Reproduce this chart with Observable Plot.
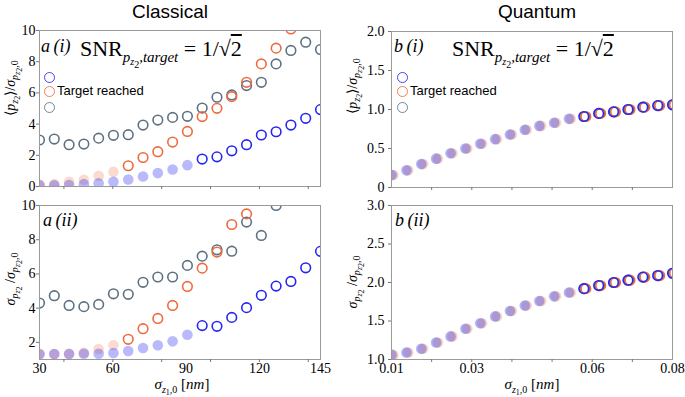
<!DOCTYPE html>
<html>
<head>
<meta charset="utf-8">
<script src="https://cdn.jsdelivr.net/npm/d3@7"></script>
<script src="https://cdn.jsdelivr.net/npm/@observablehq/plot@0.6"></script>
<style>
  body { margin: 0; background: #fff; }
  #wrap { position: relative; width: 685px; height: 397px; background: #fff; overflow: hidden; }
  .pl { position: absolute; }
  .t { position: absolute; white-space: nowrap; color: #000; line-height: 1; }
  .title { font-family: "Liberation Sans", Arial, sans-serif; font-size: 19px; transform: translateX(-50%); }
  .serif { font-family: "Liberation Serif", "Times New Roman", serif; }
  .lab { font-style: italic; font-size: 18px; }
  .snr { font-size: 22px; }
  .snr sub { font-size: 15px; font-style: italic; vertical-align: -6px; }
  .snr sub sub { font-size: 10px; vertical-align: -3px; }
  .ylab { font-size: 14px; transform: translate(-50%, -50%) rotate(-90deg); }
  .ylab sub { font-size: 10px; vertical-align: -3px; }
  .ylab sub sub { font-size: 8px; vertical-align: -2px; }
  .xlab { font-size: 15px; transform: translateX(-50%); }
  .xlab sub { font-size: 10px; vertical-align: -4px; }
  .xlab sub sub { font-size: 8px; vertical-align: -2px; }
  .leg { position: absolute; width: 11px; height: 11px; border-radius: 50%; border: 1.3px solid; box-sizing: border-box; }
  .legtxt { font-family: "Liberation Sans", Arial, sans-serif; font-size: 13px; }
</style>
</head>
<body>
<div id="wrap"></div>
<script>
// ---------------- data ----------------
const classicalX = [30, 36.05, 42.11, 48.16, 54.21, 60.26, 66.32, 72.37, 78.42, 84.47, 90.53, 96.58, 102.63, 108.68, 114.74, 120.79, 126.84, 132.89, 138.95, 145];
const quantumX = [0.01, 0.0137, 0.0174, 0.0211, 0.0247, 0.0284, 0.0321, 0.0358, 0.0395, 0.0432, 0.0468, 0.0505, 0.0542, 0.0579, 0.0616, 0.0653, 0.0689, 0.0726, 0.0763, 0.08];

// a(i): <p_z2>/sigma_pz2,0 (classical)
const classicalMeanBlue   = [0.08, 0.08, 0.10, 0.15, 0.21, 0.30, 0.45, 0.64, 0.86, 1.09, 1.37, 1.76, 1.90, 2.29, 2.68, 3.30, 3.51, 3.94, 4.37, 4.93];
const classicalMeanOrange = [0.13, 0.15, 0.30, 0.43, 0.69, 0.94, 1.33, 1.86, 2.23, 2.85, 3.53, 4.48, 5.01, 5.76, 6.68, 7.86, 8.87, 10.1, null, null];
const classicalMeanGrey   = [2.98, 3.04, 2.68, 2.72, 3.10, 3.28, 3.32, 3.94, 4.26, 4.43, 4.50, 5.03, 5.72, 5.87, 6.47, 6.68, 7.86, 8.72, 9.25, 8.78];

// a(ii): sigma_pz2 / sigma_pz2,0 (classical)
const classicalStdBlue   = [1.30, 1.32, 1.32, 1.34, 1.34, 1.38, 1.50, 1.67, 1.83, 2.06, 2.45, 2.98, 2.94, 3.46, 4.03, 4.75, 5.29, 5.56, 6.36, 7.32];
const classicalStdOrange = [1.34, 1.32, 1.34, 1.40, 1.61, 1.83, 2.18, 2.80, 3.40, 4.16, 5.27, 6.34, 7.28, 8.89, 9.51, null, null, null, null, null];
const classicalStdGrey   = [4.30, 4.73, 4.16, 4.09, 4.22, 4.84, 4.81, 5.51, 5.82, 5.82, 6.50, 7.04, 7.41, 7.33, 9.03, 8.25, 10.0, null, null, null];

// b(i), b(ii): quantum (the three series coincide)
const quantumMean = [0.16, 0.22, 0.30, 0.37, 0.44, 0.50, 0.56, 0.62, 0.68, 0.74, 0.79, 0.83, 0.88, 0.91, 0.95, 0.97, 1.00, 1.03, 1.05, 1.06];
const quantumStd  = [1.06, 1.09, 1.14, 1.22, 1.30, 1.40, 1.47, 1.56, 1.63, 1.70, 1.76, 1.82, 1.87, 1.92, 1.96, 2.00, 2.03, 2.07, 2.09, 2.12];

// index from which the target SNR is reached (hollow markers)
const reachedClassical = { blue: 11, orange: 6, grey: 0 };
const reachedQuantum   = { blue: 13, orange: 13, grey: 13 };

const classicalYTicksTop = [0, 2, 4, 6, 8, 10];
const classicalYTicksBottom = [2, 4, 6, 8, 10];
const classicalXTickMarks = [40, 60, 80, 100, 120, 140];
const classicalXTickLabels = [30, 60, 90, 120, 145];
const quantumYTicksTop = [0, 0.5, 1.0, 1.5, 2.0];
const quantumYTicksBottom = [1.0, 1.5, 2.0, 2.5, 3.0];
const quantumXTickMarks = [0.02, 0.03, 0.04, 0.05, 0.06, 0.07];
const quantumXTickLabels = [0.01, 0.03, 0.06, 0.08];

// ---------------- style ----------------
const colors = { blue: "#2626f2", orange: "#ef6a3e", grey: "#5d7183" };
const fillOpacityClassical = { blue: 0.32, orange: 0.25, grey: 0.0 };
const fillOpacityQuantum = { blue: 0.32, orange: 0.25, grey: 0.12 };

function rows(xs, ys, from) {
  return xs.map((x, i) => ({ x, y: ys[i], reached: i >= from })).filter(d => d.y != null);
}

function panel({ left, top, width, height, margin, xDomain, yDomain, series, fillOpacity, yTicks, yFormat,
                 xMarks, xLabels, xFormat, showXLabels, yTickPadding }) {
  const marks = [];
  for (const s of series) {
    if (fillOpacity[s.key] > 0)
      marks.push(Plot.dot(s.data.filter(d => !d.reached), { x: "x", y: "y", r: 5.3, fill: colors[s.key], fillOpacity: fillOpacity[s.key], stroke: "none", dx: s.dx, clip: true }));
  }
  for (const s of series) {
    marks.push(Plot.dot(s.data.filter(d => d.reached), { x: "x", y: "y", r: 4.8, stroke: colors[s.key], strokeWidth: 1.6, fill: "none", dx: s.dx, clip: true }));
  }
  marks.push(Plot.frame({ stroke: "#9a9a9a", strokeWidth: 1 }));
  marks.push(Plot.axisY(yTicks, { tickSize: 3, tickPadding: yTickPadding, tickFormat: yFormat, stroke: "#777", label: null }));
  marks.push(Plot.axisX(xMarks, { tickSize: 3, tickFormat: () => "", stroke: "#777", label: null }));
  if (showXLabels) marks.push(Plot.axisX(xLabels, { tickSize: 0, tickPadding: 4, tickFormat: xFormat, label: null }));
  const svg = Plot.plot({
    width, height,
    marginLeft: margin[3], marginRight: margin[1], marginTop: margin[0], marginBottom: margin[2],
    x: { domain: xDomain, label: null },
    y: { domain: yDomain, label: null },
    style: { background: "transparent", fontFamily: "'Liberation Serif', 'Times New Roman', serif", fontSize: "14px", overflow: "visible", color: "#000" },
    marks
  });
  svg.classList.add("pl");
  svg.style.left = left + "px";
  svg.style.top = top + "px";
  document.getElementById("wrap").appendChild(svg);
}

const cSeries = (b, o, g) => [
  { key: "grey", data: rows(classicalX, g, reachedClassical.grey), dx: 0 },
  { key: "orange", data: rows(classicalX, o, reachedClassical.orange), dx: 0 },
  { key: "blue", data: rows(classicalX, b, reachedClassical.blue), dx: 0 }
];
const qSeries = (v) => [
  { key: "grey", data: rows(quantumX, v, reachedQuantum.grey), dx: 1 },
  { key: "orange", data: rows(quantumX, v, reachedQuantum.orange), dx: 2 },
  { key: "blue", data: rows(quantumX, v, reachedQuantum.blue), dx: 0 }
];

const fmtInt = d => String(d);
const fmtQ = d => d === 0 ? "0" : d.toFixed(1);
const fmtQx = d => String(d);

panel({ left: 0, top: 0, width: 340, height: 197, margin: [30, 20, 11, 39], xDomain: [30, 145], yDomain: [0, 10],
  series: cSeries(classicalMeanBlue, classicalMeanOrange, classicalMeanGrey), fillOpacity: fillOpacityClassical, yTicks: classicalYTicksTop, yFormat: fmtInt,
  xMarks: classicalXTickMarks, xLabels: classicalXTickLabels, xFormat: fmtInt, showXLabels: false, yTickPadding: 1 });
panel({ left: 0, top: 197, width: 340, height: 200, margin: [8, 20, 38, 39], xDomain: [30, 145], yDomain: [1, 10],
  series: cSeries(classicalStdBlue, classicalStdOrange, classicalStdGrey), fillOpacity: fillOpacityClassical, yTicks: classicalYTicksBottom, yFormat: fmtInt,
  xMarks: classicalXTickMarks, xLabels: classicalXTickLabels, xFormat: fmtInt, showXLabels: true, yTickPadding: 1 });
panel({ left: 340, top: 0, width: 345, height: 197, margin: [31, 13, 10, 51], xDomain: [0.01, 0.08], yDomain: [0, 2],
  series: qSeries(quantumMean), fillOpacity: fillOpacityQuantum, yTicks: quantumYTicksTop, yFormat: fmtQ,
  xMarks: quantumXTickMarks, xLabels: quantumXTickLabels, xFormat: fmtQx, showXLabels: false, yTickPadding: 4 });
panel({ left: 340, top: 197, width: 345, height: 200, margin: [8, 13, 38, 51], xDomain: [0.01, 0.08], yDomain: [1, 3],
  series: qSeries(quantumStd), fillOpacity: fillOpacityQuantum, yTicks: quantumYTicksBottom, yFormat: fmtQ,
  xMarks: quantumXTickMarks, xLabels: quantumXTickLabels, xFormat: fmtQx, showXLabels: true, yTickPadding: 4 });

// ---------------- text overlays ----------------
const wrap = document.getElementById("wrap");
function txt(html, cls, x, y) {
  const d = document.createElement("div");
  d.className = "t " + cls;
  d.innerHTML = html;
  d.style.left = x + "px";
  d.style.top = y + "px";
  wrap.appendChild(d);
  return d;
}
txt("Classical", "title", 170, 2);
txt("Quantum", "title", 537, 2);

txt("a&#8201;(i)", "serif lab", 41, 37);
txt("b&#8201;(i)", "serif lab", 394, 37);
txt("a&#8201;(ii)", "serif lab", 43, 211);
txt("b&#8201;(ii)", "serif lab", 395, 211);

const snr = "SNR<sub>p<sub>z<sub style='font-style:normal'>2</sub></sub>,target</sub> = 1/&radic;<span style='text-decoration:overline'>2</span>";
txt(snr, "serif snr", 80, 38);
txt(snr, "serif snr", 452, 38);

const yTop = "&#10216;<i>p</i><sub><i>z</i><sub>2</sub></sub>&#10217;/<i>&sigma;</i><sub><i>p</i><sub><i>z</i><sub>2</sub></sub>,0</sub>";
const yBot = "<i>&sigma;</i><sub><i>p</i><sub><i>z</i><sub>2</sub></sub></sub> /<i>&sigma;</i><sub><i>p</i><sub><i>z</i><sub>2</sub></sub>,0</sub>";
txt(yTop, "serif ylab", 14, 88);
txt(yBot, "serif ylab", 14, 279);
txt(yTop, "serif ylab", 356, 86);
txt(yBot, "serif ylab", 356, 282);

const xl = "<i>&sigma;</i><sub><i>z</i><sub>1</sub>,0</sub> [<i>nm</i>]";
txt(xl, "serif xlab", 182, 377);
txt(xl, "serif xlab", 532, 377);

function legend(x, y) {
  ["blue", "orange", "grey"].forEach((k, i) => {
    const c = document.createElement("div");
    c.className = "leg";
    c.style.borderColor = colors[k];
    c.style.opacity = 0.85;
    c.style.left = (x - 5.5) + "px";
    c.style.top = (y + [0, 14, 30][i] - 5.5) + "px";
    wrap.appendChild(c);
  });
  txt("Target reached", "legtxt", x + 8, y + 7);
}
legend(49, 77);
legend(402, 77);
</script>
</body>
</html>
